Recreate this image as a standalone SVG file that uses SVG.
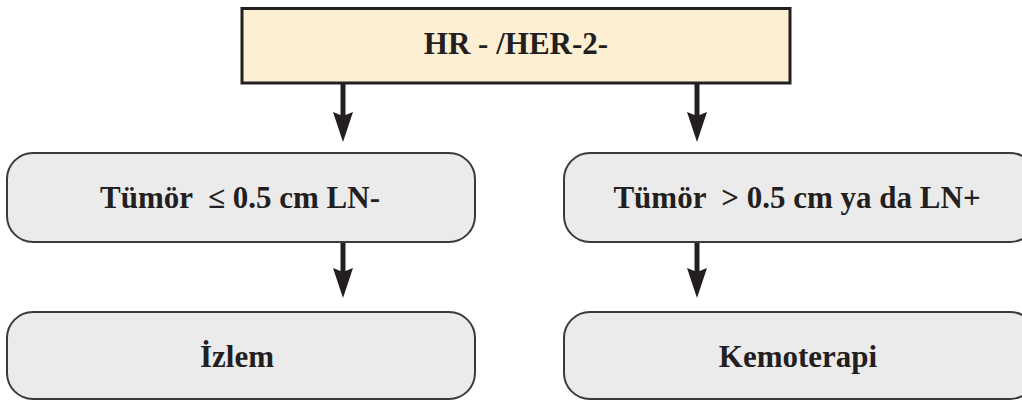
<svg xmlns="http://www.w3.org/2000/svg" width="1022" height="401" viewBox="0 0 1022 401">
<style>
.top{fill:#fdefd4;stroke:#231f20;stroke-width:3}
.box{fill:#ebebec;stroke:#3a3a3a;stroke-width:2}
.t{font-family:"Liberation Serif","Times New Roman",serif;font-weight:bold;font-size:31px;fill:#231f20;text-anchor:middle}
.conn{stroke:#231f20;stroke-width:5;fill:none;marker-end:url(#ah)}
</style>
<defs>
<marker id="ah" viewBox="-1 -12 33 24" refX="10" refY="0" markerWidth="33" markerHeight="24" markerUnits="userSpaceOnUse" orient="auto">
<path d="M0,-10 L30,0 L0,10 L4,0 Z" fill="#231f20"/>
</marker>
</defs>
<rect width="1022" height="401" fill="#ffffff"/>
<g id="connectors">
<line class="conn" x1="343" y1="84" x2="343" y2="122"/>
<line class="conn" x1="697" y1="84" x2="697" y2="122"/>
<line class="conn" x1="343" y1="243" x2="343" y2="278"/>
<line class="conn" x1="697" y1="243" x2="697" y2="278"/>
</g>
<g id="n-hr">
<rect class="top" x="242" y="8.5" width="548" height="74.5"/>
<text class="t" x="516" y="54">HR - /HER-2-</text>
</g>
<g id="n-small">
<rect class="box" x="7" y="153" width="468" height="89" rx="26" ry="26"/>
<text class="t" x="240" y="208" xml:space="preserve">Tümör  ≤ 0.5 cm LN-</text>
</g>
<g id="n-large">
<rect class="box" x="564" y="153" width="472" height="89" rx="26" ry="26"/>
<text class="t" x="797" y="208" xml:space="preserve">Tümör  &gt; 0.5 cm ya da LN+</text>
</g>
<g id="n-izlem">
<rect class="box" x="7" y="312" width="468" height="87" rx="26" ry="26"/>
<text class="t" x="237" y="367">İzlem</text>
</g>
<g id="n-kemo">
<rect class="box" x="564" y="312" width="472" height="87" rx="26" ry="26"/>
<text class="t" x="798" y="367">Kemoterapi</text>
</g>
</svg>
